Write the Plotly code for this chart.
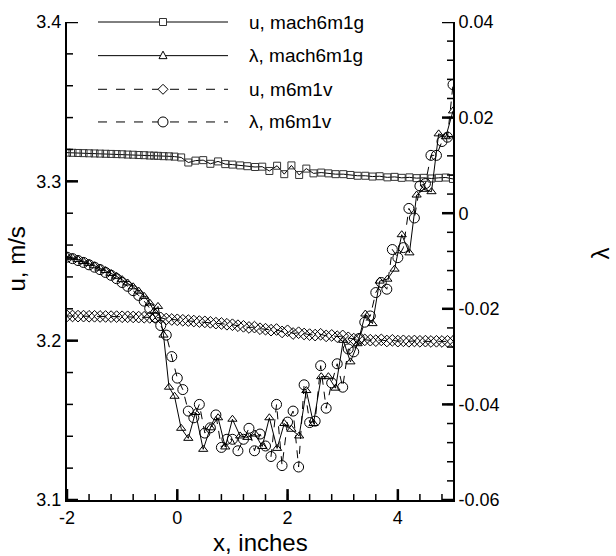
import plotly.graph_objects as go

# ---------------- data ----------------
# mach6m1g grid
x_g = [-2.0, -1.9, -1.8, -1.7, -1.6, -1.5, -1.4, -1.3, -1.2, -1.1, -1.0, -0.9, -0.8, -0.7, -0.6, -0.5,
       -0.42, -0.35, -0.25, -0.15, -0.05, 0.07, 0.2, 0.33, 0.47, 0.6, 0.74, 0.87, 1.0, 1.14, 1.27, 1.41,
       1.54, 1.67, 1.81, 1.94, 2.07, 2.21, 2.34, 2.47, 2.61, 2.74, 2.87, 3.01, 3.14, 3.27, 3.41, 3.54,
       3.67, 3.81, 3.94, 4.07, 4.21, 4.34, 4.47, 4.61, 4.74, 4.87, 5.0]
u_g = [3.3180, 3.3179, 3.3178, 3.3177, 3.3176, 3.3175, 3.3174, 3.3173, 3.3172, 3.3171, 3.3170, 3.3168,
       3.3167, 3.3165, 3.3164, 3.3162, 3.3161, 3.3160, 3.3158, 3.3157, 3.3155, 3.3150, 3.3118, 3.3130,
       3.3133, 3.3110, 3.3125, 3.3108, 3.3105, 3.3100, 3.3095, 3.3090, 3.3092, 3.3065, 3.3098, 3.3045,
       3.3100, 3.3040, 3.3080, 3.3050, 3.3055, 3.3050, 3.3045, 3.3045, 3.3040, 3.3035, 3.3035, 3.3030,
       3.3032, 3.3025, 3.3028, 3.3022, 3.3025, 3.3020, 3.3022, 3.3018, 3.3022, 3.3024, 3.3015]
lam_g = [-0.0090, -0.0093, -0.0097, -0.0101, -0.0105, -0.0110, -0.0115, -0.0120, -0.0126, -0.0132,
         -0.0139, -0.0146, -0.0154, -0.0163, -0.0174, -0.0188, -0.0205, -0.0195, -0.0255, -0.0364,
         -0.0383, -0.0450, -0.0471, -0.0417, -0.0494, -0.0449, -0.0428, -0.0489, -0.0431, -0.0466,
         -0.0469, -0.0462, -0.0488, -0.0428, -0.0492, -0.0440, -0.0452, -0.0466, -0.0371, -0.0440,
         -0.0342, -0.0342, -0.0366, -0.0266, -0.0311, -0.0273, -0.0211, -0.0231, -0.0142, -0.0138,
         -0.0117, -0.0045, -0.0083, 0.0038, 0.0050, 0.0045, 0.0166, 0.0160, 0.0214]

# m6m1v grid
x_v = [-2.0, -1.9, -1.8, -1.7, -1.6, -1.5, -1.4, -1.3, -1.2, -1.1, -1.0, -0.9, -0.8, -0.7, -0.6, -0.5,
       -0.4, -0.3, -0.2, -0.1, 0.0, 0.1, 0.2, 0.3, 0.4, 0.5, 0.6, 0.7, 0.8, 0.9, 1.0, 1.1, 1.2, 1.3,
       1.4, 1.5, 1.6, 1.7, 1.8, 1.9, 2.0, 2.1, 2.2, 2.3, 2.4, 2.5, 2.6, 2.7, 2.8, 2.9, 3.0, 3.1, 3.2,
       3.3, 3.4, 3.5, 3.6, 3.7, 3.8, 3.9, 4.0, 4.1, 4.2, 4.3, 4.4, 4.5, 4.6, 4.7, 4.8, 4.9, 5.0]
u_v = [3.2155, 3.2155, 3.2154, 3.2154, 3.2153, 3.2153, 3.2152, 3.2152, 3.2151, 3.2151, 3.2150, 3.2150,
       3.2149, 3.2148, 3.2147, 3.2146, 3.2145, 3.2143, 3.2136, 3.2133, 3.2131, 3.2128, 3.2126, 3.2123,
       3.2120, 3.2118, 3.2115, 3.2110, 3.2108, 3.2103, 3.2100, 3.2094, 3.2090, 3.2083, 3.2085, 3.2075,
       3.2072, 3.2066, 3.2070, 3.2055, 3.2062, 3.2045, 3.2050, 3.2042, 3.2038, 3.2035, 3.2040, 3.2030,
       3.2033, 3.2025, 3.2030, 3.2018, 3.2010, 3.2008, 3.2005, 3.2003, 3.2000, 3.2005, 3.1998, 3.2002,
       3.1997, 3.1999, 3.1996, 3.1998, 3.1996, 3.1997, 3.1995, 3.1996, 3.1995, 3.1996, 3.1995]
lam_v = [-0.0092, -0.0095, -0.0099, -0.0103, -0.0108, -0.0113, -0.0118, -0.0124, -0.0130, -0.0137,
         -0.0145, -0.0153, -0.0162, -0.0172, -0.0184, -0.0199, -0.0218, -0.0235, -0.0255, -0.0300,
         -0.0345, -0.0369, -0.0414, -0.0428, -0.0400, -0.0460, -0.0449, -0.0422, -0.0490, -0.0473,
         -0.0473, -0.0497, -0.0473, -0.0450, -0.0497, -0.0462, -0.0487, -0.0509, -0.0400, -0.0528,
         -0.0437, -0.0414, -0.0531, -0.0359, -0.0438, -0.0435, -0.0319, -0.0408, -0.0355, -0.0315,
         -0.0364, -0.0284, -0.0290, -0.0262, -0.0228, -0.0215, -0.0166, -0.0145, -0.0159, -0.0076,
         -0.0093, -0.0072, 0.0010, -0.0010, 0.0057, 0.0062, 0.0121, 0.0121, 0.0150, 0.0159, 0.0269]

x_ticks = [-2, 0, 2, 4]
x_ticktext = ["-2", "0", "2", "4"]
u_ticks = [3.1, 3.2, 3.3, 3.4]
u_ticktext = ["3.1", "3.2", "3.3", "3.4"]
lam_ticks = [-0.06, -0.04, -0.02, 0.0, 0.02, 0.04]
lam_ticktext = ["-0.06", "-0.04", "-0.02", "0", "0.02", "0.04"]

legend_names = ["u, mach6m1g", "\u03bb, mach6m1g", "u, m6m1v", "\u03bb, m6m1v"]

# minor tick positions (4 minor ticks between majors)
x_minor = [round(-2 + 0.4 * i, 3) for i in range(18)]
u_minor = [round(3.1 + 0.02 * i, 4) for i in range(16)]
lam_minor = [round(-0.06 + 0.004 * i, 4) for i in range(26)]

# ---------------- styles / layout (pixels) ----------------
FONT = "Liberation Sans, Arial, sans-serif"
W, H = 616, 556
L, R, T, B = 67, 453, 17, 500   # plot area in pixels
X_RANGE, U_RANGE, LAM_RANGE = [-2, 5], [3.1, 3.4], [-0.06, 0.04]
MAJ, MIN = 11, 6                 # tick lengths, px


def px(xp):
    return (xp - L) / (R - L)


def py(yp):
    return (B - yp) / (B - T)


styles = [
    dict(symbol="square-open", size=7, dash="solid", mcolor="#333333"),
    dict(symbol="triangle-up-open", size=8, dash="solid", mcolor="black"),
    dict(symbol="diamond-open", size=9, dash="8px,7px", mcolor="black"),
    dict(symbol="circle-open", size=10, dash="8px,7px", mcolor="black"),
]

fig = go.Figure()
series = [(x_g, u_g, "y"), (x_g, lam_g, "y2"), (x_v, u_v, "y"), (x_v, lam_v, "y2")]
for (xs, ys, ax), st, nm in zip(series, styles, legend_names):
    fig.add_trace(go.Scatter(
        x=xs, y=ys, yaxis=ax, mode="lines+markers", name=nm, showlegend=False,
        line=dict(color="black", width=1, dash=st["dash"]),
        marker=dict(symbol=st["symbol"], size=st["size"],
                    line=dict(color=st["mcolor"], width=1), color=st["mcolor"]),
    ))

# ---------------- inside tick marks, drawn as segment traces on the axes' own scales ----------------
x_per_px = (X_RANGE[1] - X_RANGE[0]) / (R - L)
u_per_px = (U_RANGE[1] - U_RANGE[0]) / (B - T)
lam_per_px = (LAM_RANGE[1] - LAM_RANGE[0]) / (B - T)


def tick_trace(xs, ys, yaxis, width):
    fig.add_trace(go.Scatter(x=xs, y=ys, yaxis=yaxis, mode="lines", showlegend=False, hoverinfo="skip",
                             line=dict(color="black", width=width), cliponaxis=False))


for vals, ln, wd in [(x_minor, MIN, 1.5), (x_ticks, MAJ, 2.5)]:
    xs, ys = [], []
    for v in vals:
        xs += [v, v, None]
        ys += [U_RANGE[0], U_RANGE[0] + ln * u_per_px, None]
    tick_trace(xs, ys, "y", wd)

for vals, ln, wd in [(u_minor, MIN, 1.5), (u_ticks, MAJ, 2.5)]:
    xs, ys = [], []
    for v in vals:
        xs += [X_RANGE[0], X_RANGE[0] + ln * x_per_px, None]
        ys += [v, v, None]
    tick_trace(xs, ys, "y", wd)

for vals, ln, wd in [(lam_minor, MIN, 1.5), (lam_ticks, MAJ, 2.5)]:
    xs, ys = [], []
    for v in vals:
        xs += [X_RANGE[1], X_RANGE[1] - ln * x_per_px, None]
        ys += [v, v, None]
    tick_trace(xs, ys, "y2", wd)

# ---------------- custom legend (long line samples, like the original) ----------------
shapes = []
leg_rows = [17, 51, 85, 118]
leg_x0, leg_x1, leg_xm, leg_tx = 98, 228, 163, 247
marker_paths = [
    "M -3.5,-3.5 L 3.5,-3.5 L 3.5,3.5 L -3.5,3.5 Z",
    "M -4,-3 L 4,-3 L 0,4.5 Z",
    "M 0,-5 L 5,0 L 0,5 L -5,0 Z",
    None,
]
for st, nm, yy, mp in zip(styles, legend_names, leg_rows, marker_paths):
    shapes.append(dict(type="line", xref="paper", yref="paper", x0=px(leg_x0), x1=px(leg_x1),
                       y0=py(yy), y1=py(yy),
                       line=dict(color="black", width=1, dash=("dash" if st["dash"] != "solid" else "solid"))))
    common = dict(xref="paper", yref="paper", xsizemode="pixel", ysizemode="pixel",
                  xanchor=px(leg_xm), yanchor=py(yy), fillcolor="white",
                  line=dict(color=st["mcolor"], width=1))
    if mp is None:
        shapes.append(dict(type="circle", x0=-5, x1=5, y0=-5, y1=5, **common))
    else:
        shapes.append(dict(type="path", path=mp, **common))
    fig.add_annotation(x=px(leg_tx), y=py(yy), xref="paper", yref="paper", text=nm, showarrow=False,
                       xanchor="left", yanchor="middle",
                       font=dict(family=FONT, size=19, color="black"))

# axis titles as annotations for exact placement
fig.add_annotation(x=px(260), y=py(543), xref="paper", yref="paper", text="x, inches", showarrow=False,
                   xanchor="center", yanchor="middle", font=dict(family=FONT, size=24, color="black"))
fig.add_annotation(x=px(17), y=py(257), xref="paper", yref="paper", text="u, m/s", showarrow=False,
                   textangle=-90, xanchor="center", yanchor="middle",
                   font=dict(family=FONT, size=24, color="black"))
fig.add_annotation(x=px(601), y=py(251), xref="paper", yref="paper", text="\u03bb", showarrow=False,
                   textangle=-90, xanchor="center", yanchor="middle",
                   font=dict(family=FONT, size=24, color="black"))

axis_common = dict(showgrid=False, zeroline=False, showline=True, linecolor="black", linewidth=2,
                   ticks="", tickfont=dict(family=FONT, size=18, color="black"))

fig.update_layout(
    width=W, height=H, margin=dict(l=L, r=W - R, t=T, b=H - B, pad=0),
    paper_bgcolor="white", plot_bgcolor="rgba(0,0,0,0)", showlegend=False,
    shapes=shapes,
    xaxis=dict(range=X_RANGE, tickmode="array", tickvals=x_ticks, ticktext=x_ticktext, **axis_common),
    yaxis=dict(range=U_RANGE, tickmode="array", tickvals=u_ticks, ticktext=u_ticktext, **axis_common),
    yaxis2=dict(range=LAM_RANGE, overlaying="y", side="right", anchor="x",
                tickmode="array", tickvals=lam_ticks, ticktext=lam_ticktext, **axis_common),
)

fig.write_html("out.html")
